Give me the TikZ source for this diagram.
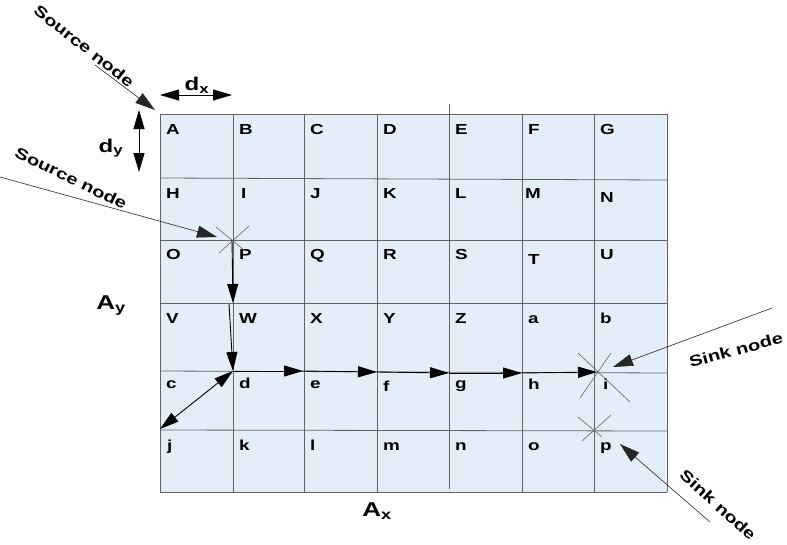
\documentclass[tikz,border=0pt]{standalone}
\usepackage{fontspec}
\newfontfamily\wfont[FakeStretch=1.3]{Liberation Sans}
\usetikzlibrary{arrows.meta}
\definecolor{cellfill}{RGB}{228,238,249}
\definecolor{gridline}{RGB}{100,100,100}
\begin{document}
\begin{tikzpicture}[x=1pt,y=-1pt,
  lett/.style={anchor=base west,inner sep=0pt,font=\wfont\bfseries\fontsize{14.5}{16}\selectfont},
  lab/.style={inner sep=0pt,font=\wfont\bfseries\fontsize{15.5}{18}\selectfont},
  axlab/.style={inner sep=0pt,font=\wfont\bfseries\fontsize{20}{22}\selectfont},
  dlab/.style={inner sep=0pt,font=\wfont\bfseries\fontsize{18.5}{20}\selectfont},
  gl/.style={draw=gridline,line width=0.8pt},
  crossl/.style={draw=gridline,line width=0.6pt},
  arr/.style={draw=black,line width=0.9pt,-{Triangle[length=19pt,width=11pt]}},
  darr/.style={draw=black,line width=0.9pt,{Triangle[length=19pt,width=11pt]}-{Triangle[length=19pt,width=11pt]}},
  thinarr/.style={draw=black!85,line width=0.6pt,-{Triangle[length=20pt,width=12pt]}}]
\useasboundingbox (0,0) rectangle (787,544);
% grid
\fill[cellfill] (160,114) rectangle (667,492);
\draw[gl] (160,114) -- (667,114);
\draw[gl] (160,178) -- (667,180);
\draw[gl] (160,240) -- (667,240);
\draw[gl] (160,303) -- (667,303);
\draw[gl] (160,371) -- (667,373);
\draw[gl] (160,430) -- (667,431);
\draw[gl] (160,492) -- (667,492);
\foreach \cx in {160,233,304,377,522,594,667} {\draw[gl] (\cx,114) -- (\cx,492);}
\draw[gl] (449,104) -- (449,489);
% grid points
\coordinate (pP) at (232,240);
\coordinate (pW) at (233,303);
\coordinate (pWb) at (229,304);
\coordinate (pd) at (233,371);
\coordinate (pe) at (303,371);
\coordinate (pf) at (377,372);
\coordinate (pg) at (449,373);
\coordinate (ph) at (522,373);
\coordinate (pi) at (597,372);
\coordinate (pj) at (160,429);
\coordinate (pA) at (155,110);
% letters
\foreach \l/\x/\y in {A/166/134,B/239/134,C/310/134,D/383/134,E/455/134,F/528/134,G/600/134,
  H/166/198,I/241/198,J/310/198,K/383/198,L/455/198,M/525/198,N/600/202,
  O/166/259,P/239/259,Q/310/259,R/383/259,S/455/259,T/528/264,U/600/259,
  V/166/323,W/239/323,X/310/323,Y/383/323,Z/455/323,a/528/323,b/600/323,
  c/166/388,d/239/388,e/310/388,f/383/391,g/455/388,h/528/389,i/603/389,
  j/167/450,k/239/450,l/310/450,m/383/450,n/455/450,o/528/450,p/600/450}
  {\node[lett] (n\l) at (\x,\y) {\l};}
% crosses
\draw[crossl] (216,227) -- (244,250);
\draw[crossl] (249,226) -- (219,253);
\draw[crossl] (578,353) -- (630,402);
\draw[crossl] (611,353) -- (580,398);
\draw[crossl] (578,417) -- (602,437);
\draw[crossl] (611,415) -- (582,441);
% route arrows
\draw[arr] (pP) -- (pW);
\draw[arr] (pWb) -- (pd);
\draw[arr] (pd) -- (pe);
\draw[arr] (pe) -- (pf);
\draw[arr] (pf) -- (pg);
\draw[arr] (pg) -- (ph);
\draw[arr] (ph) -- (pi);
\draw[darr] (pd) -- (pj);
% dimension arrows
\coordinate (dxa) at (160,95);
\coordinate (dxb) at (232,95);
\coordinate (dya) at (139,110);
\coordinate (dyb) at (139,172);
\draw[darr] (dxa) -- (dxb);
\draw[darr] (dya) -- (dyb);
\node[dlab] (dxl) at (197,85) {d\textsubscript{x}};
\node[dlab] (dyl) at (111,148) {d\textsubscript{y}};
\node[axlab] (ayl) at (111,306) {A\textsubscript{y}};
\node[axlab] (axl) at (377,511) {A\textsubscript{x}};
% source / sink labels
\node[lab,rotate=-38] (src1) at (84,46) {Source node};
\node[lab,rotate=-26] (src2) at (71,178) {Source node};
\node[lab,rotate=15] (snk1) at (736,350) {Sink node};
\node[lab,rotate=-42] (snk2) at (718,505) {Sink node};
\coordinate (s1t) at (95,65);
\coordinate (s2t) at (0,177);
\coordinate (k1t) at (772,308);
\coordinate (k2t) at (710,522);
\coordinate (pS2) at (217,237);
\coordinate (pK1) at (613,367);
\coordinate (pK2) at (620,444);
\draw[thinarr] (s1t) -- (pA);
\draw[thinarr] (s2t) -- (pS2);
\draw[thinarr] (k1t) -- (pK1);
\draw[thinarr] (k2t) -- (pK2);
\end{tikzpicture}
\end{document}
